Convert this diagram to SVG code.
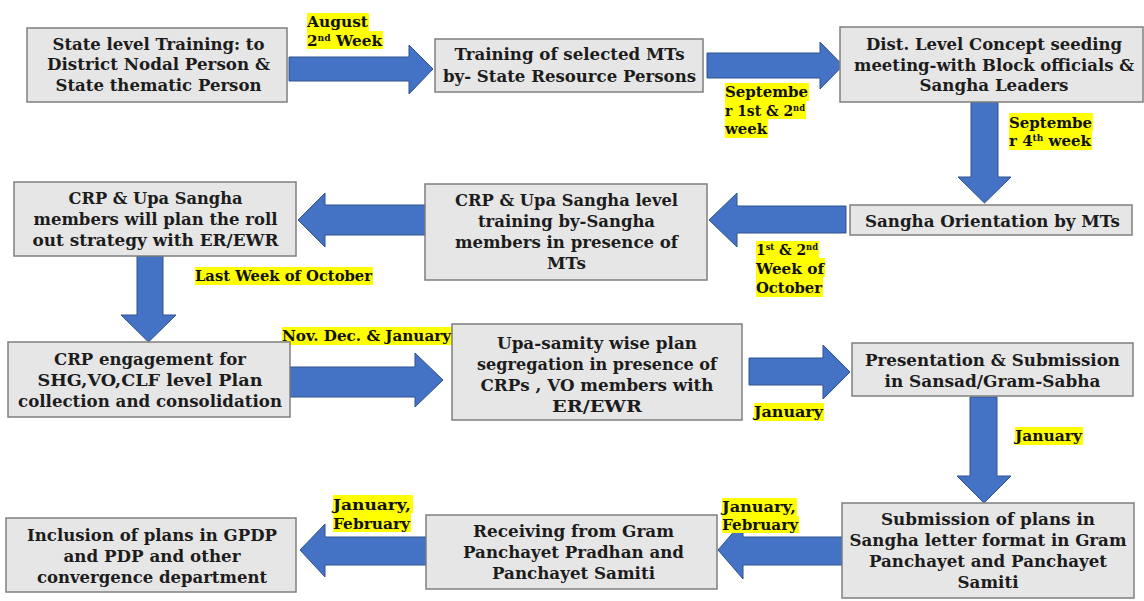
<svg xmlns="http://www.w3.org/2000/svg" width="1144" height="601" viewBox="0 0 1144 601">
<style>
.box{fill:#e7e6e6;stroke:#7f7f7f;stroke-width:1.5}
.t{font-family:"DejaVu Serif","Liberation Serif",serif;font-weight:bold;font-size:17px;fill:#1c1c1c;text-anchor:middle}
.l{font-family:"DejaVu Serif","Liberation Serif",serif;font-weight:bold;font-size:15px;fill:#111}
.hl{fill:#ffff00}
.arr{fill:#4472c4;stroke:#2f528f;stroke-width:1}
.sup{font-size:9px;baseline-shift:5px}
</style>
<rect width="1144" height="601" fill="#ffffff"/>
<g id="connectors">
<polygon class="arr" points="289,57 409,57 409,45 433,69 409,94 409,81 289,81"/>
<polygon class="arr" points="707,53 820,53 820,42 843,65.5 820,89 820,78 707,78"/>
<polygon class="arr" points="971,102 998,102 998,177 1011,177 984.5,203 958,177 971,177"/>
<polygon class="arr" points="846,206 737,206 737,193 709,220 737,247 737,233 846,233"/>
<polygon class="arr" points="425,205 325,205 325,193 298,220 325,247 325,235 425,235"/>
<polygon class="arr" points="137,256 163,256 163,315 176,315 148.5,342 121,315 137,315"/>
<polygon class="arr" points="290,367 415,367 415,353 443,380 415,407 415,397 290,397"/>
<polygon class="arr" points="749,358 823,358 823,345 850,372 823,399 823,385 749,385"/>
<polygon class="arr" points="970,397 997,397 997,476 1011,476 984,503 957,476 970,476"/>
<polygon class="arr" points="842,537 743,537 743,521 718,550 743,579 743,565 842,565"/>
<polygon class="arr" points="426,537 325,537 325,524 300,550 325,577 325,565 426,565"/>
</g>
<g id="labels">
<rect class="hl" x="307" y="13" width="62" height="18"/><rect class="hl" x="307" y="31" width="76" height="18"/>
<text class="l" x="307" y="27" textLength="61" lengthAdjust="spacingAndGlyphs">August</text>
<text class="l" x="307" y="46" textLength="75" lengthAdjust="spacingAndGlyphs">2<tspan class="sup">nd</tspan> Week</text>
<rect class="hl" x="725" y="83" width="84" height="18"/><rect class="hl" x="725" y="101" width="81" height="18"/><rect class="hl" x="725" y="119" width="43" height="19"/>
<text class="l" x="725" y="97" textLength="83" lengthAdjust="spacingAndGlyphs">Septembe</text>
<text class="l" x="725" y="115.5" textLength="80" lengthAdjust="spacingAndGlyphs">r 1st &amp; 2<tspan class="sup">nd</tspan></text>
<text class="l" x="725" y="134" textLength="42" lengthAdjust="spacingAndGlyphs">week</text>
<rect class="hl" x="1009" y="113" width="84" height="18"/><rect class="hl" x="1009" y="131" width="83" height="19"/>
<text class="l" x="1009" y="127.5" textLength="83" lengthAdjust="spacingAndGlyphs">Septembe</text>
<text class="l" x="1009" y="146" textLength="82" lengthAdjust="spacingAndGlyphs">r 4<tspan class="sup">th</tspan> week</text>
<rect class="hl" x="756" y="241" width="63" height="17"/><rect class="hl" x="756" y="258" width="69" height="19"/><rect class="hl" x="756" y="277" width="67" height="20"/>
<text class="l" x="756" y="255" textLength="62" lengthAdjust="spacingAndGlyphs">1<tspan class="sup">st</tspan> &amp; 2<tspan class="sup">nd</tspan></text>
<text class="l" x="756" y="274" textLength="68" lengthAdjust="spacingAndGlyphs">Week of</text>
<text class="l" x="756" y="293" textLength="66" lengthAdjust="spacingAndGlyphs">October</text>
<rect class="hl" x="195" y="267" width="178" height="18"/>
<text class="l" x="195" y="280.5" textLength="177" lengthAdjust="spacingAndGlyphs">Last Week of October</text>
<rect class="hl" x="282" y="327" width="170" height="18"/>
<text class="l" x="282" y="341" textLength="169" lengthAdjust="spacingAndGlyphs">Nov. Dec. &amp; January</text>
<rect class="hl" x="754" y="403" width="70" height="18"/>
<text class="l" x="754" y="416.5" textLength="69" lengthAdjust="spacingAndGlyphs">January</text>
<rect class="hl" x="1015" y="427" width="68" height="18"/>
<text class="l" x="1015" y="440.5" textLength="67" lengthAdjust="spacingAndGlyphs">January</text>
<rect class="hl" x="722" y="498" width="75" height="18"/><rect class="hl" x="722" y="516" width="77" height="17"/>
<text class="l" x="722" y="512" textLength="74" lengthAdjust="spacingAndGlyphs">January,</text>
<text class="l" x="722" y="529.5" textLength="76" lengthAdjust="spacingAndGlyphs">February</text>
<rect class="hl" x="333" y="495" width="80" height="18"/><rect class="hl" x="333" y="513" width="78" height="19"/>
<text class="l" x="333" y="509.5" textLength="78" lengthAdjust="spacingAndGlyphs">January,</text>
<text class="l" x="333" y="528.5" textLength="77" lengthAdjust="spacingAndGlyphs">February</text>
</g>
<g id="n1"><rect class="box" x="27" y="28" width="260" height="74"/>
<text class="t" x="158.5" y="49.5" textLength="212" lengthAdjust="spacingAndGlyphs">State level Training: to</text>
<text class="t" x="158.5" y="70" textLength="223" lengthAdjust="spacingAndGlyphs">District Nodal Person &amp;</text>
<text class="t" x="158.5" y="91" textLength="206" lengthAdjust="spacingAndGlyphs">State thematic Person</text></g>
<g id="n2"><rect class="box" x="435" y="39" width="268" height="53"/>
<text class="t" x="569.5" y="60" textLength="230" lengthAdjust="spacingAndGlyphs">Training of selected MTs</text>
<text class="t" x="569.5" y="81.5" textLength="253" lengthAdjust="spacingAndGlyphs">by- State Resource Persons</text></g>
<g id="n3"><rect class="box" x="840" y="27" width="303" height="75"/>
<text class="t" x="994" y="50" textLength="256" lengthAdjust="spacingAndGlyphs">Dist. Level Concept seeding</text>
<text class="t" x="994" y="70.5" textLength="280" lengthAdjust="spacingAndGlyphs">meeting-with Block officials &amp;</text>
<text class="t" x="994" y="91" textLength="149" lengthAdjust="spacingAndGlyphs">Sangha Leaders</text></g>
<g id="n4"><rect class="box" x="850" y="205" width="282" height="30"/>
<text class="t" x="992.5" y="226.5" textLength="255" lengthAdjust="spacingAndGlyphs">Sangha Orientation by MTs</text></g>
<g id="n5"><rect class="box" x="425" y="184" width="282" height="96"/>
<text class="t" x="566.5" y="205.5" textLength="223" lengthAdjust="spacingAndGlyphs">CRP &amp; Upa Sangha level</text>
<text class="t" x="566.5" y="226.5" textLength="177" lengthAdjust="spacingAndGlyphs">training by-Sangha</text>
<text class="t" x="566.5" y="247.5" textLength="223" lengthAdjust="spacingAndGlyphs">members in presence of</text>
<text class="t" x="566.5" y="268.5" textLength="39" lengthAdjust="spacingAndGlyphs">MTs</text></g>
<g id="n6"><rect class="box" x="14" y="182" width="282" height="74"/>
<text class="t" x="155.5" y="203.5" textLength="174" lengthAdjust="spacingAndGlyphs">CRP &amp; Upa Sangha</text>
<text class="t" x="155.5" y="224.5" textLength="244" lengthAdjust="spacingAndGlyphs">members will plan the roll</text>
<text class="t" x="155.5" y="245.5" textLength="246" lengthAdjust="spacingAndGlyphs">out strategy with ER/EWR</text></g>
<g id="n7"><rect class="box" x="8" y="342" width="282" height="75"/>
<text class="t" x="150" y="364.5" textLength="192" lengthAdjust="spacingAndGlyphs">CRP engagement for</text>
<text class="t" x="150" y="385.5" textLength="225" lengthAdjust="spacingAndGlyphs">SHG,VO,CLF level Plan</text>
<text class="t" x="150" y="406.5" textLength="264" lengthAdjust="spacingAndGlyphs">collection and consolidation</text></g>
<g id="n8"><rect class="box" x="452" y="324" width="290" height="96"/>
<text class="t" x="597" y="348.5" textLength="200" lengthAdjust="spacingAndGlyphs">Upa-samity wise plan</text>
<text class="t" x="597" y="369.5" textLength="240" lengthAdjust="spacingAndGlyphs">segregation in presence of</text>
<text class="t" x="597" y="390.5" textLength="233" lengthAdjust="spacingAndGlyphs">CRPs , VO members with</text>
<text class="t" x="597" y="411.5" textLength="90" lengthAdjust="spacingAndGlyphs">ER/EWR</text></g>
<g id="n9"><rect class="box" x="852" y="343" width="281" height="53"/>
<text class="t" x="992.5" y="365.5" textLength="255" lengthAdjust="spacingAndGlyphs">Presentation &amp; Submission</text>
<text class="t" x="992.5" y="386.5" textLength="216" lengthAdjust="spacingAndGlyphs">in Sansad/Gram-Sabha</text></g>
<g id="n10"><rect class="box" x="842" y="503" width="292" height="95"/>
<text class="t" x="988" y="525" textLength="214" lengthAdjust="spacingAndGlyphs">Submission of plans in</text>
<text class="t" x="988" y="546" textLength="277" lengthAdjust="spacingAndGlyphs">Sangha letter format in Gram</text>
<text class="t" x="988" y="567" textLength="238" lengthAdjust="spacingAndGlyphs">Panchayet and Panchayet</text>
<text class="t" x="988" y="588" textLength="61" lengthAdjust="spacingAndGlyphs">Samiti</text></g>
<g id="n11"><rect class="box" x="426" y="515" width="291" height="74"/>
<text class="t" x="573.5" y="537" textLength="201" lengthAdjust="spacingAndGlyphs">Receiving from Gram</text>
<text class="t" x="573.5" y="558" textLength="221" lengthAdjust="spacingAndGlyphs">Panchayet Pradhan and</text>
<text class="t" x="573.5" y="579" textLength="163" lengthAdjust="spacingAndGlyphs">Panchayet Samiti</text></g>
<g id="n12"><rect class="box" x="6" y="518" width="290" height="74"/>
<text class="t" x="152" y="541" textLength="250" lengthAdjust="spacingAndGlyphs">Inclusion of plans in GPDP</text>
<text class="t" x="152" y="562" textLength="177" lengthAdjust="spacingAndGlyphs">and PDP and other</text>
<text class="t" x="152" y="582.5" textLength="230" lengthAdjust="spacingAndGlyphs">convergence department</text></g>
</svg>
